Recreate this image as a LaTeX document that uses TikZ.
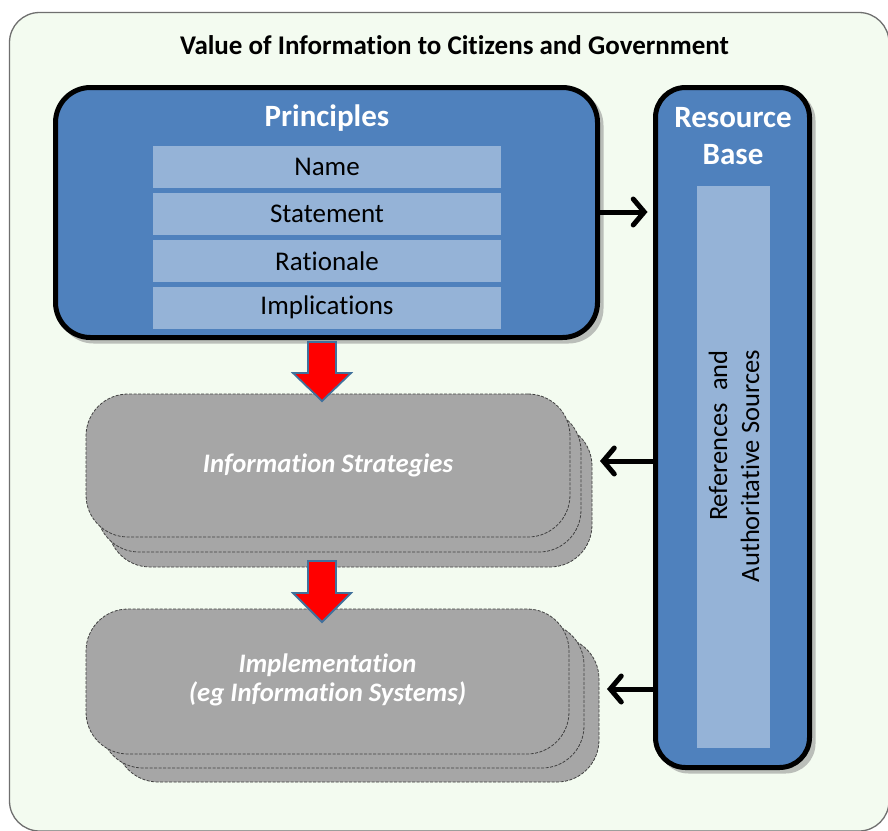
\documentclass[tikz,border=0pt]{standalone}
\usepackage{fontspec}
\setmainfont{Carlito}[Ligatures={NoCommon,NoRare},Contextuals={NoAlternate}]
\usetikzlibrary{arrows.meta,calc}
\definecolor{bg}{HTML}{F3FBF0}
\definecolor{mainblue}{HTML}{4F81BD}
\definecolor{lightblue}{HTML}{95B3D7}
\definecolor{gbox}{HTML}{A6A6A6}
\definecolor{redfill}{HTML}{FF0000}
\definecolor{redline}{HTML}{41719C}
\definecolor{bgline}{HTML}{6F6F6F}
\tikzset{
  bluebox/.style={draw=black, line width=5pt, fill=mainblue, rounded corners=#1, inner sep=0pt, outer sep=0pt},
  shadowbox/.style={fill=black!45, opacity=0.55, rounded corners=#1, inner sep=0pt, outer sep=0pt},
  itembox/.style={fill=lightblue, inner sep=0pt, outer sep=0pt, minimum width=348pt, minimum height=42pt, font=\fontsize{27}{32}\selectfont, text=black},
  headtext/.style={text=white, font=\fontsize{31}{37}\selectfont\bfseries, align=center, inner sep=0pt},
  graybox/.style={draw=black!75, dash pattern=on 3pt off 1.5pt, line width=0.8pt, fill=gbox, rounded corners=42pt, inner sep=0pt, outer sep=0pt},
  graytext/.style={text=white, font=\fontsize{26.7}{29}\selectfont\bfseries\itshape, align=center, inner sep=0pt},
  conn/.style={line width=5pt, -{Straight Barb[length=11pt,width=26pt,line width=5pt,line cap=round]}, shorten >=8pt},
  blockarrow/.style={fill=redfill, draw=redline, line width=1.8pt, line join=miter},
}
\begin{document}
\begin{tikzpicture}[x=1pt,y=-1pt]
\useasboundingbox (0,0) rectangle (888,830);
\begin{scope}
  \clip (0,0) rectangle (888,830);
  \fill[white] (0,0) rectangle (888,830);
  \draw[fill=bg, draw=bgline, line width=1.3pt, rounded corners=30pt] (9.5,12.5) rectangle (889,831);
\end{scope}

\node[font=\fontsize{27}{32}\selectfont\bfseries, text=black, inner sep=0pt] (title) at (454.5,45) {Value of Information to Citizens and Government};

% shadows
\node[shadowbox=35pt, minimum width=545pt, minimum height=253pt] at (331,217) {};
\node[shadowbox=30pt, minimum width=157pt, minimum height=683pt] at (737,432) {};

% Principles
\node[bluebox=35pt, minimum width=542pt, minimum height=250pt] (princ) at (326.5,212.5) {};
\node[headtext] (ptitle) at (327,118) {Principles};
\node[itembox] (name) at (327,167) {Name};
\node[itembox] (stmt) at (327,214) {Statement};
\node[itembox] (rat) at (327,261) {Rationale};
\node[itembox] (impl) at (327,307.5) {Implications};

% Resource Base
\node[bluebox=30pt, minimum width=154pt, minimum height=680pt] (res) at (732.5,427.5) {};
\node[headtext] (rtitle) at (733,136.5) {Resource\\Base};
\node[fill=lightblue, inner sep=0pt, minimum width=73pt, minimum height=562pt] (strip) at (733.5,467) {};
\node[rotate=90, anchor=east, align=right, inner sep=0pt, text=black, font=\fontsize{26.5}{32}\selectfont] (refs) at (734,350) {References\ \ and\\Authoritative Sources};

% Information Strategies stack
\node[graybox, minimum width=484pt, minimum height=143pt] (infoB) at (350,495.5) {};
\node[graybox, minimum width=484pt, minimum height=143pt] (infoM) at (339,480.5) {};
\node[graybox, minimum width=484pt, minimum height=143pt] (info) at (328,465.5) {};
\node[graytext] (infotext) at (info) {Information Strategies};

% Implementation stack
\node[graybox, minimum width=483pt, minimum height=145pt] (implB) at (357.5,709.5) {};
\node[graybox, minimum width=483pt, minimum height=145pt] (implM) at (342.5,695.5) {};
\node[graybox, minimum width=483pt, minimum height=145pt] (sys) at (327.5,681.5) {};
\node[graytext] (systext) at (327.5,679.5) {Implementation\\(eg Information Systems)};

% red block arrows
\draw[blockarrow] (308,342) -- (336,342) -- (336,373) -- (351,373) -- (322,401) -- (293,373) -- (308,373) -- cycle;
\draw[blockarrow] (308,561) -- (336,561) -- (336,593) -- (351,593) -- (322,622) -- (293,593) -- (308,593) -- cycle;

% connectors
\coordinate (a1) at (princ.east |- 0,212);
\draw[conn] (a1) -- (a1 -| res.west);
\coordinate (a2) at (res.west |- 0,461);
\draw[conn] (a2) -- (a2 -| infoB.east);
\coordinate (a3) at (res.west |- 0,689);
\draw[conn] (a3) -- (a3 -| implB.east);
\end{tikzpicture}
\end{document}
